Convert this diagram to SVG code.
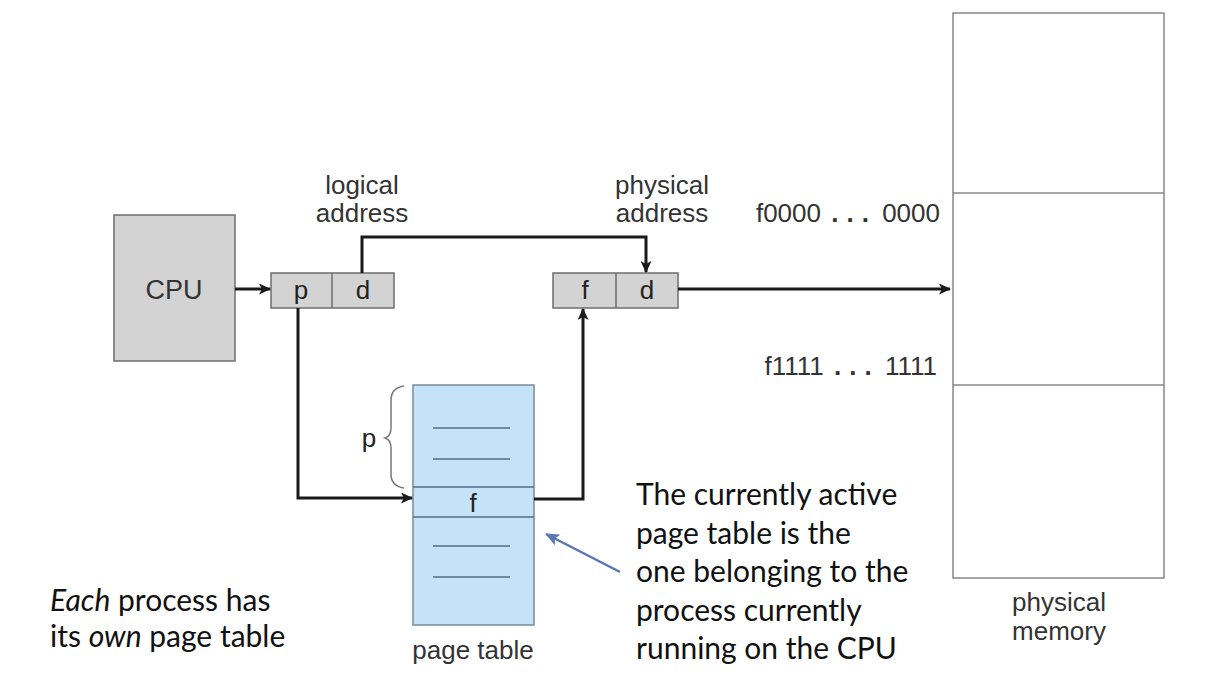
<svg xmlns="http://www.w3.org/2000/svg" width="1230" height="692" viewBox="0 0 1230 692">
<defs>
<marker id="ah" markerWidth="12" markerHeight="11" refX="11" refY="5.5" orient="auto" markerUnits="userSpaceOnUse">
<path d="M0,0 L12,5.5 L0,11 L3,5.5 Z" fill="#1a1a1a"/>
</marker>
<marker id="ahb" markerWidth="14" markerHeight="12" refX="13" refY="6" orient="auto" markerUnits="userSpaceOnUse">
<path d="M0,0 L14,6 L0,12 L3,6 Z" fill="#5a78b0"/>
</marker>
<style>
.box{fill:#d3d3d3;stroke:#6e6e6e;stroke-width:1.5}
.pt{fill:#c5e3f8;stroke:#7a8a96;stroke-width:1.5}
.mem{fill:#ffffff;stroke:#888;stroke-width:1.5}
.row{stroke:#4f6f84;stroke-width:1.5}
.lbl{font-family:"Liberation Sans",Arial,sans-serif;fill:#333;font-size:26px}
.cell{font-family:"Liberation Sans",Arial,sans-serif;fill:#222;font-size:26px;text-anchor:middle}
.note{font-family:Lato,"Open Sans",sans-serif;fill:#111;font-size:30px}
.conn{fill:none;stroke:#1a1a1a;stroke-width:3}
.dots{font-weight:bold;letter-spacing:8px}
.dot{font-weight:bold}
</style>
</defs>
<rect width="1230" height="692" fill="#ffffff"/>

<g id="cpu">
<rect class="box" x="114" y="215" width="121" height="146"/>
<text class="cell" x="174" y="299" style="font-size:27px;fill:#333">CPU</text>
</g>

<g id="logical-address">
<rect class="box" x="271" y="273" width="123" height="35"/>
<line x1="332" y1="273" x2="332" y2="308" stroke="#6e6e6e" stroke-width="1.5"/>
<text class="cell" x="301" y="299">p</text>
<text class="cell" x="363" y="299">d</text>
<text class="lbl" x="362" y="194" text-anchor="middle">logical</text>
<text class="lbl" x="362" y="222" text-anchor="middle">address</text>
</g>

<g id="physical-address">
<rect class="box" x="553" y="273" width="125" height="35"/>
<line x1="616" y1="273" x2="616" y2="308" stroke="#6e6e6e" stroke-width="1.5"/>
<text class="cell" x="585" y="299">f</text>
<text class="cell" x="647" y="299">d</text>
<text class="lbl" x="662" y="194" text-anchor="middle">physical</text>
<text class="lbl" x="662" y="222" text-anchor="middle">address</text>
</g>

<g id="page-table">
<rect class="pt" x="413" y="385" width="121" height="240"/>
<line x1="413" y1="487" x2="534" y2="487" class="row"/>
<line x1="413" y1="517" x2="534" y2="517" class="row"/>
<line x1="433" y1="428" x2="510" y2="428" class="row"/>
<line x1="433" y1="459" x2="510" y2="459" class="row"/>
<line x1="433" y1="546" x2="510" y2="546" class="row"/>
<line x1="433" y1="577" x2="510" y2="577" class="row"/>
<text class="cell" x="473" y="512" style="font-size:26px">f</text>
<path d="M404,386 Q391,388 391,400 L391,428 Q391,436 385,438 Q391,440 391,448 L391,474 Q391,486 404,488" fill="none" stroke="#777" stroke-width="1.5"/>
<text class="cell" x="369" y="447">p</text>
<text class="lbl" x="473" y="659" text-anchor="middle">page table</text>
</g>

<g id="physical-memory">
<rect class="mem" x="953" y="13" width="211" height="565"/>
<line x1="953" y1="193" x2="1164" y2="193" stroke="#888" stroke-width="1.5"/>
<line x1="953" y1="385" x2="1164" y2="385" stroke="#888" stroke-width="1.5"/>
<text class="lbl" x="940" y="222" text-anchor="end">f0000 <tspan class="dots" dx="3">..</tspan><tspan class="dot">.</tspan> <tspan dx="6">0000</tspan></text>
<text class="lbl" x="937" y="375" text-anchor="end">f1111 <tspan class="dots" dx="3">..</tspan><tspan class="dot">.</tspan> <tspan dx="6">1111</tspan></text>
<text class="lbl" x="1059" y="611" text-anchor="middle">physical</text>
<text class="lbl" x="1059" y="640" text-anchor="middle">memory</text>
</g>

<g id="connectors">
<line class="conn" x1="235" y1="289" x2="270" y2="289" marker-end="url(#ah)"/>
<polyline class="conn" points="362,273 362,237 646,237 646,272" marker-end="url(#ah)"/>
<line class="conn" x1="678" y1="289" x2="950" y2="289" marker-end="url(#ah)"/>
<polyline class="conn" points="298,308 298,498 412,498" marker-end="url(#ah)"/>
<polyline class="conn" points="534,499 583,499 583,309" marker-end="url(#ah)"/>
<line x1="620" y1="572" x2="546" y2="534" stroke="#5a78b0" stroke-width="2.5" marker-end="url(#ahb)"/>
</g>

<g id="notes">
<text class="note" x="50" y="611"><tspan font-style="italic">Each</tspan> process has</text>
<text class="note" x="50" y="647">its <tspan font-style="italic">own</tspan> page table</text>
<text class="note" x="636" y="505">The currently active</text>
<text class="note" x="636" y="544">page table is the</text>
<text class="note" x="636" y="582">one belonging to the</text>
<text class="note" x="636" y="621">process currently</text>
<text class="note" x="636" y="659">running on the CPU</text>
</g>
</svg>
